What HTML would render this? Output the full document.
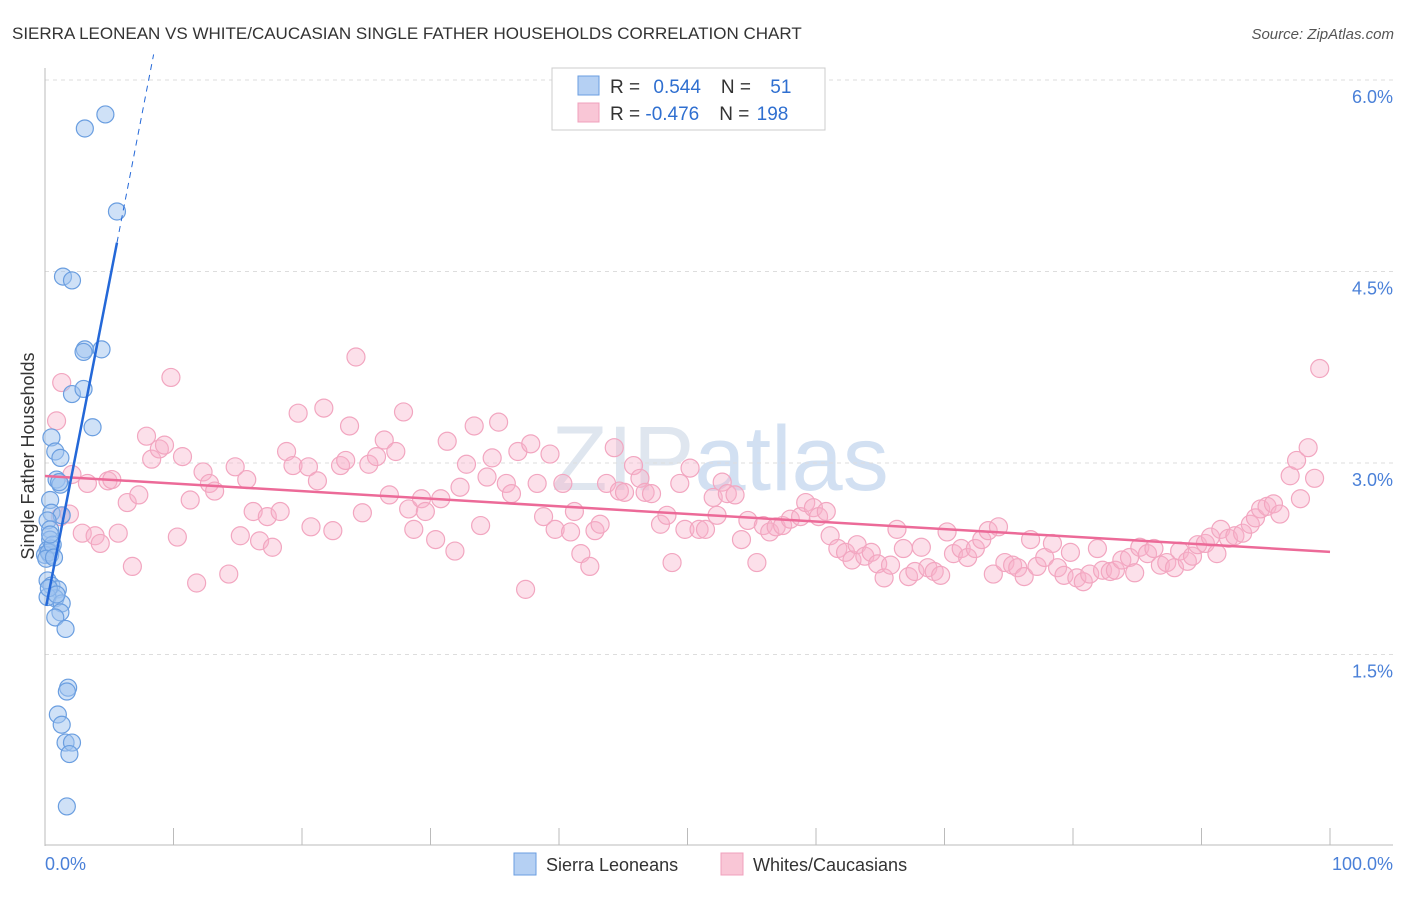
<!DOCTYPE html>
<html><head><meta charset="utf-8"><style>
body{margin:0;background:#fff;font-family:"Liberation Sans",sans-serif;}
svg text{font-family:"Liberation Sans",sans-serif;}
</style></head><body>
<svg id="chart" width="1406" height="892" viewBox="0 0 1406 892" xmlns="http://www.w3.org/2000/svg">
<text x="12" y="39" font-size="17" fill="#333">SIERRA LEONEAN VS WHITE/CAUCASIAN SINGLE FATHER HOUSEHOLDS CORRELATION CHART</text>
<text x="1394" y="39" font-size="15" fill="#555" font-style="italic" text-anchor="end">Source: ZipAtlas.com</text>
<text x="720" y="490" font-size="92" fill="#dfe6ef" text-anchor="middle" font-family="Liberation Serif">ZIP<tspan fill="#d2e0f2" font-family="Liberation Sans">atlas</tspan></text>
<g id="grid"></g>
<g id="axes"></g>
<g id="pink"></g>
<g id="blue"></g>
<g id="lines"></g>
<text transform="translate(34,456) rotate(-90)" font-size="18" fill="#333" text-anchor="middle">Single Father Households</text>
<g>
<rect x="552" y="68" width="273" height="62" fill="#fff" stroke="#ccc"/>
<rect x="578" y="76" width="21" height="19" fill="#b5d0f3" stroke="#6a9ee0"/>
<rect x="578" y="103" width="21" height="19" fill="#f9c6d6" stroke="#f0a0bc"/>
<text x="610" y="93" font-size="19" fill="#333">R = <tspan fill="#2f6fd0" dx="8">0.544</tspan><tspan dx="20" fill="#333">N = </tspan><tspan fill="#2f6fd0" dx="14">51</tspan></text>
<text x="610" y="120" font-size="19" fill="#333">R = <tspan fill="#2f6fd0" dx="0">-0.476</tspan><tspan dx="20" fill="#333">N = </tspan><tspan fill="#2f6fd0" dx="2">198</tspan></text>
</g>
<g>
<rect x="514" y="853" width="22" height="22" fill="#b5d0f3" stroke="#6a9ee0"/>
<text x="546" y="871" font-size="18" fill="#333">Sierra Leoneans</text>
<rect x="721" y="853" width="22" height="22" fill="#f9c6d6" stroke="#f0a0bc"/>
<text x="753" y="871" font-size="18" fill="#333">Whites/Caucasians</text>
</g>
</svg>
<script>
const yTicks=[1.5,3.0,4.5,6.0];
const yTickLabels=["1.5%","3.0%","4.5%","6.0%"];
const xTickLabels=["0.0%","100.0%"];
const blueX=[3.1,4.7,5.6,1.4,2.1,3.1,4.4,3.0,2.1,3.0,3.7,0.5,0.8,1.2,0.9,1.2,0.4,0.5,1.3,0.2,0.4,0.4,0.2,0.4,0.5,0.0,0.2,0.5,1.0,0.8,0.2,1.3,1.2,0.8,1.6,1.8,1.7,1.0,1.3,1.6,2.1,1.9,1.7,0.3,0.6,0.1,0.3,0.9,0.7,0.4,1.1];
const blueY=[5.62,5.73,4.97,4.46,4.43,3.89,3.89,3.87,3.54,3.58,3.28,3.20,3.09,3.04,2.87,2.83,2.71,2.61,2.59,2.55,2.48,2.40,2.32,2.28,2.33,2.28,2.08,2.04,2.01,1.94,1.95,1.90,1.83,1.79,1.70,1.24,1.21,1.03,0.95,0.81,0.81,0.72,0.31,2.30,2.36,2.25,2.02,1.97,2.26,2.44,2.85];
const pinkX=[0.9,1.3,2.1,1.2,1.9,3.3,2.9,3.9,4.3,4.9,5.2,5.7,6.4,7.3,6.8,7.9,8.3,8.9,9.3,9.8,10.3,10.7,11.3,11.8,12.3,12.8,13.2,14.3,14.8,15.2,15.7,16.2,16.7,17.3,17.7,18.3,18.8,19.3,19.7,20.5,20.7,21.2,21.7,22.4,23.0,23.4,23.7,24.2,24.7,25.2,25.8,26.4,26.8,27.3,27.9,28.3,28.7,29.3,29.6,30.4,30.8,31.3,31.9,32.3,32.8,33.4,33.9,34.4,34.8,35.3,35.9,36.3,36.8,37.4,37.8,38.3,38.8,39.3,39.7,40.3,40.9,41.2,41.7,42.4,42.8,43.2,43.7,44.3,44.7,45.1,45.8,46.3,46.7,47.2,47.9,48.4,48.8,49.4,49.8,50.2,50.9,51.4,52.0,52.3,52.7,53.1,53.7,54.2,54.7,55.4,55.9,56.4,56.9,57.4,58.0,58.8,59.2,59.8,60.2,60.8,61.1,61.7,62.3,62.8,63.2,63.8,64.3,64.8,65.3,65.8,66.3,66.8,67.2,67.7,68.2,68.7,69.2,69.7,70.2,70.7,71.3,71.8,72.4,72.9,73.4,73.8,74.2,74.7,75.3,75.7,76.2,76.7,77.2,77.8,78.4,78.8,79.3,79.8,80.3,80.8,81.3,81.9,82.3,82.9,83.3,83.8,84.4,84.8,85.2,85.8,86.3,86.8,87.3,87.9,88.3,88.9,89.3,89.7,90.3,90.7,91.2,91.5,92.1,92.6,93.2,93.8,94.2,94.6,95.1,95.6,96.1,96.9,97.4,97.7,98.3,98.8,99.2];
const pinkY=[3.33,3.63,2.91,2.58,2.60,2.84,2.45,2.43,2.37,2.86,2.87,2.45,2.69,2.75,2.19,3.21,3.03,3.11,3.14,3.67,2.42,3.05,2.71,2.06,2.93,2.84,2.78,2.13,2.97,2.43,2.87,2.62,2.39,2.58,2.34,2.62,3.09,2.98,3.39,2.97,2.50,2.86,3.43,2.47,2.98,3.02,3.29,3.83,2.61,2.99,3.05,3.18,2.75,3.09,3.40,2.64,2.48,2.72,2.62,2.40,2.72,3.17,2.31,2.81,2.99,3.29,2.51,2.89,3.04,3.32,2.84,2.76,3.09,2.01,3.15,2.84,2.58,3.07,2.48,2.84,2.46,2.62,2.29,2.19,2.47,2.52,2.84,3.12,2.78,2.77,2.98,2.88,2.77,2.76,2.52,2.59,2.22,2.84,2.48,2.96,2.48,2.48,2.73,2.59,2.85,2.76,2.75,2.40,2.55,2.22,2.51,2.46,2.50,2.51,2.56,2.58,2.69,2.65,2.58,2.62,2.43,2.33,2.30,2.24,2.36,2.27,2.30,2.21,2.10,2.20,2.48,2.33,2.11,2.15,2.34,2.18,2.15,2.12,2.46,2.29,2.33,2.26,2.33,2.40,2.47,2.13,2.50,2.22,2.20,2.18,2.11,2.40,2.19,2.26,2.37,2.18,2.12,2.30,2.10,2.07,2.13,2.33,2.16,2.15,2.16,2.24,2.26,2.14,2.34,2.29,2.33,2.20,2.22,2.18,2.31,2.23,2.27,2.36,2.37,2.42,2.29,2.48,2.41,2.43,2.45,2.52,2.57,2.64,2.66,2.68,2.60,2.90,3.02,2.72,3.12,2.88,3.74];

const NS="http://www.w3.org/2000/svg";
const X0=45,X1=1330,Y0=846,PXPER=127.67;
function sx(v){return X0+(v/100)*(X1-X0);}
function sy(v){return Y0-v*PXPER;}
function mk(tag,attrs,parent){const e=document.createElementNS(NS,tag);for(const k in attrs)e.setAttribute(k,attrs[k]);parent.appendChild(e);return e;}

const grid=document.getElementById('grid'),axes=document.getElementById('axes');
yTicks.forEach((t,i)=>{
  const g=mk('line',{x1:45,x2:1393,y1:sy(t),y2:sy(t),stroke:'#ddd','stroke-dasharray':'4,4'},grid);
  
  
  const l=mk('text',{x:1393,y:sy(t)+23,'font-size':18,fill:'#4a80d8','text-anchor':'end'},axes);
  l.textContent=yTickLabels[i];
  
  
});
mk('line',{x1:45,x2:45,y1:68,y2:846,stroke:'#bbb'},axes);
mk('line',{x1:45,x2:1393,y1:845,y2:845,stroke:'#bbb'},axes);
for(let i=0;i<=10;i++){
  const t=mk('line',{x1:sx(i*10),x2:sx(i*10),y1:828,y2:845,stroke:'#bbb'},axes);
  
  
}
const xl0=mk('text',{x:45,y:870,'font-size':18,fill:'#4a80d8'},axes);
xl0.textContent=xTickLabels[0];


const xl1=mk('text',{x:1393,y:870,'font-size':18,fill:'#4a80d8','text-anchor':'end'},axes);
xl1.textContent=xTickLabels[1];



const pg=document.getElementById('pink'),bg=document.getElementById('blue');
pinkX.forEach((x,i)=>{
  const c=mk('circle',{cx:sx(x),cy:sy(pinkY[i]),r:9,fill:'rgba(247,178,202,0.4)',stroke:'#f2a6c0','stroke-width':1.2},pg);
  
  
});
blueX.forEach((x,i)=>{
  const c=mk('circle',{cx:sx(x),cy:sy(blueY[i]),r:8.5,fill:'rgba(160,196,240,0.5)',stroke:'#6a9ee0','stroke-width':1.2},bg);
  
  
});

function fit(xs,ys){const n=xs.length;let mx=0,my=0;xs.forEach((x,i)=>{mx+=x;my+=ys[i];});mx/=n;my/=n;let a=0,b=0;xs.forEach((x,i)=>{a+=(x-mx)*(ys[i]-my);b+=(x-mx)*(x-mx);});const s=a/b;return [s,my-s*mx];}
const lg=document.getElementById('lines');
const [ps,pi]=fit(pinkX,pinkY);
const pl=mk('line',{x1:sx(0),y1:sy(pi),x2:sx(100),y2:sy(pi+ps*100),stroke:'#ec6a98','stroke-width':2.5},lg);


const [bs,bi]=fit(blueX,blueY);
const bxMax=Math.max(...blueX);
const bl=mk('line',{x1:sx(0.1),y1:sy(bi+bs*0.1),x2:sx(bxMax),y2:sy(bi+bs*bxMax),stroke:'#2468d8','stroke-width':2.5},lg);


const xTop=(6.2-bi)/bs;
const bd=mk('line',{x1:sx(bxMax),y1:sy(bi+bs*bxMax),x2:sx(xTop),y2:sy(6.2),stroke:'#2468d8','stroke-width':1,'stroke-dasharray':'6,5'},lg);


</script>
</body></html>
